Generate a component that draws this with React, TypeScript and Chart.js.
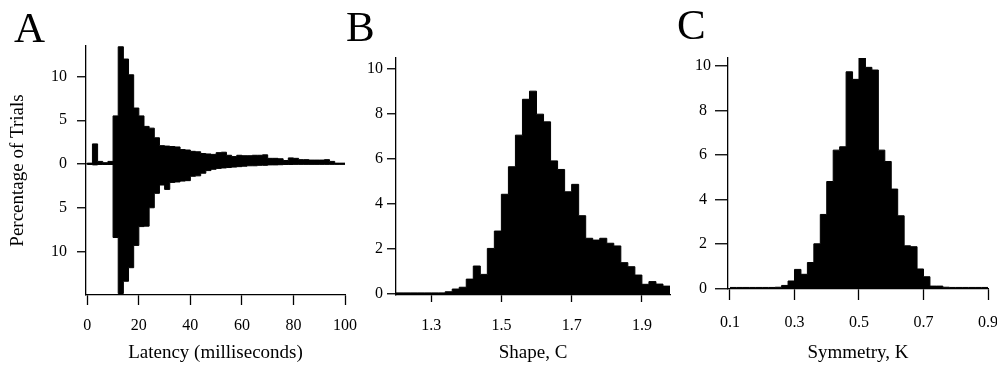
import React, { useEffect, useRef } from 'react';
import { Chart, registerables } from 'chart.js';

Chart.register(...registerables);

const FONT = "'Liberation Serif', 'Times New Roman', serif";

// ---------- Panel A: latency histogram (upper and mirrored lower distributions) ----------
const A_BIN_STARTS = [0, 2, 4, 6, 8, 10, 12, 14, 16, 18, 20, 22, 24, 26, 28, 30, 32, 34, 36, 38, 40, 42, 44, 46, 48, 50, 52, 54, 56, 58, 60, 62, 64, 66, 68, 70, 72, 74, 76, 78, 80, 82, 84, 86, 88, 90, 92, 94, 96, 98];
const A_BIN_END = 100;
const A_ABOVE = [0.1, 2.3, 0.3, 0.15, 0.3, 5.5, 13.4, 12.0, 10.2, 6.4, 5.5, 4.3, 4.1, 3.0, 2.1, 2.05, 2.0, 1.95, 1.65, 1.6, 1.45, 1.4, 1.2, 1.15, 1.1, 1.3, 1.35, 1.0, 0.85, 1.0, 0.95, 0.95, 1.0, 1.0, 1.05, 0.65, 0.65, 0.6, 0.4, 0.7, 0.65, 0.5, 0.5, 0.45, 0.45, 0.45, 0.5, 0.3, 0.1, 0.1];
const A_BELOW = [-0.05, -0.1, -0.05, -0.05, -0.05, -8.4, -14.8, -13.4, -11.85, -9.3, -7.15, -7.1, -5.0, -3.35, -2.4, -2.9, -2.1, -2.05, -1.95, -1.9, -1.4, -1.35, -1.05, -0.75, -0.6, -0.5, -0.45, -0.4, -0.35, -0.3, -0.25, -0.2, -0.2, -0.15, -0.15, -0.1, -0.1, -0.08, -0.05, -0.05, -0.03, -0.03, -0.03, -0.03, -0.03, -0.03, -0.03, -0.03, -0.03, -0.03];
const A_X_TICKS = [0, 20, 40, 60, 80, 100];
const A_Y_TICKS = [-10, -5, 0, 5, 10];

// ---------- Panel B: shape parameter C ----------
const B_BIN_STARTS = [1.2, 1.22, 1.24, 1.26, 1.28, 1.3, 1.32, 1.34, 1.36, 1.38, 1.4, 1.42, 1.44, 1.46, 1.48, 1.5, 1.52, 1.54, 1.56, 1.58, 1.6, 1.62, 1.64, 1.66, 1.68, 1.7, 1.72, 1.74, 1.76, 1.78, 1.8, 1.82, 1.84, 1.86, 1.88, 1.9, 1.92, 1.94, 1.96];
const B_BIN_END = 1.98;
const B_VALUES = [0.05, 0.05, 0.05, 0.05, 0.05, 0.05, 0.05, 0.1, 0.22, 0.3, 0.66, 1.24, 0.87, 2.02, 2.79, 4.42, 5.64, 7.04, 8.63, 8.99, 7.97, 7.63, 5.9, 5.52, 4.53, 4.86, 3.47, 2.47, 2.39, 2.47, 2.25, 2.13, 1.39, 1.21, 0.84, 0.43, 0.55, 0.44, 0.35];
const B_X_TICKS = [1.3, 1.5, 1.7, 1.9];
const B_Y_TICKS = [0, 2, 4, 6, 8, 10];

// ---------- Panel C: symmetry parameter K ----------
const C_BIN_STARTS = [0.1, 0.12, 0.14, 0.16, 0.18, 0.2, 0.22, 0.24, 0.26, 0.28, 0.3, 0.32, 0.34, 0.36, 0.38, 0.4, 0.42, 0.44, 0.46, 0.48, 0.5, 0.52, 0.54, 0.56, 0.58, 0.6, 0.62, 0.64, 0.66, 0.68, 0.7, 0.72, 0.74, 0.76, 0.78, 0.8, 0.82, 0.84, 0.86, 0.88];
const C_BIN_END = 0.9;
const C_VALUES = [0.04, 0.04, 0.04, 0.04, 0.04, 0.04, 0.04, 0.05, 0.13, 0.33, 0.85, 0.63, 1.16, 2.0, 3.32, 4.8, 6.21, 6.36, 9.73, 9.39, 10.36, 9.93, 9.81, 6.21, 5.7, 4.46, 3.26, 1.91, 1.87, 0.87, 0.52, 0.1, 0.1, 0.05, 0.04, 0.04, 0.04, 0.04, 0.04, 0.04];
const C_X_TICKS = [0.1, 0.3, 0.5, 0.7, 0.9];
const C_Y_TICKS = [0, 2, 4, 6, 8, 10];

// ---------- helpers ----------
// Histogram outline: one point per bin's left edge plus the closing right edge,
// drawn as a stepped line filled down to zero.
function histDataset(starts: number[], values: number[], end: number) {
  const pts = starts.map((x, i) => ({ x, y: values[i] }));
  pts.push({ x: end, y: values[values.length - 1] });
  return {
    data: pts,
    stepped: 'before' as const,
    fill: 'origin',
    backgroundColor: '#000',
    borderColor: '#000',
    borderWidth: 1,
    pointRadius: 0,
    pointHoverRadius: 0,
  };
}

type XOpts = {
  min: number; max: number; ticks: number[]; height: number; tickLength: number;
  padding: number; title: string; fmt: (v: number) => string; fontSize?: number;
};
function xScale(o: XOpts) {
  return {
    type: 'linear',
    position: 'bottom',
    min: o.min,
    max: o.max,
    afterBuildTicks: (s: any) => { s.ticks = o.ticks.map((v) => ({ value: v })); },
    afterFit: (s: any) => { s.height = o.height; s.paddingLeft = 0; s.paddingRight = 0; },
    grid: { display: true, drawOnChartArea: false, drawTicks: true, tickLength: o.tickLength, tickColor: '#000', tickWidth: 1.3, color: '#000' },
    border: { display: true, color: '#000', width: 1.3 },
    ticks: {
      color: '#000', autoSkip: false, maxRotation: 0, minRotation: 0, padding: o.padding,
      font: { family: FONT, size: o.fontSize ?? 16 },
      callback: (v: any) => o.fmt(Number(v)),
    },
    title: { display: true, text: o.title, color: '#000', font: { family: FONT, size: 19 }, padding: { top: 0, bottom: 1 } },
  };
}

type YOpts = {
  min: number; max: number; ticks: number[]; width: number; tickLength: number; padding: number;
  fmt: (v: number) => string; crossAlign?: 'near' | 'center' | 'far'; title?: string; zeroLine?: boolean;
};
function yScale(o: YOpts) {
  return {
    type: 'linear',
    position: 'left',
    min: o.min,
    max: o.max,
    afterBuildTicks: (s: any) => { s.ticks = o.ticks.map((v) => ({ value: v })); },
    afterFit: (s: any) => { s.width = o.width; s.paddingTop = 0; s.paddingBottom = 0; },
    grid: {
      display: true,
      drawOnChartArea: !!o.zeroLine,
      drawTicks: true,
      tickLength: o.tickLength,
      tickColor: '#000',
      tickWidth: 1.3,
      lineWidth: 1.5,
      color: (ctx: any) => (o.zeroLine && ctx.tick && ctx.tick.value === 0 ? '#000' : 'rgba(0,0,0,0)'),
    },
    border: { display: true, color: '#000', width: 1.3 },
    ticks: {
      color: '#000', autoSkip: false, padding: o.padding, crossAlign: o.crossAlign ?? 'near',
      font: { family: FONT, size: 16 },
      callback: (v: any) => o.fmt(Number(v)),
    },
    title: o.title
      ? { display: true, text: o.title, color: '#000', font: { family: FONT, size: 19 }, padding: { top: 7, bottom: 0 } }
      : { display: false },
  };
}

function baseOptions(padding: { left: number; top: number; right: number; bottom: number }, x: any, y: any) {
  return {
    responsive: false,
    animation: false,
    events: [],
    layout: { padding },
    plugins: { legend: { display: false }, tooltip: { enabled: false }, title: { display: false } },
    scales: { x, y },
  };
}

function configA() {
  return {
    type: 'line',
    data: {
      datasets: [
        histDataset(A_BIN_STARTS, A_ABOVE, A_BIN_END),
        histDataset(A_BIN_STARTS, A_BELOW, A_BIN_END),
      ],
    },
    options: baseOptions(
      { left: 0, top: 46, right: 20, bottom: 0 },
      xScale({ min: -0.5, max: 100, ticks: A_X_TICKS, height: 70, tickLength: 10, padding: 11, title: 'Latency (milliseconds)', fmt: (v) => String(v) }),
      yScale({ min: -14.97, max: 13.49, ticks: A_Y_TICKS, width: 86, tickLength: 9, padding: 10, fmt: (v) => String(Math.abs(v)), title: 'Percentage of Trials', zeroLine: true }),
    ),
  };
}

function configB() {
  return {
    type: 'line',
    data: { datasets: [histDataset(B_BIN_STARTS, B_VALUES, B_BIN_END)] },
    options: baseOptions(
      { left: 0, top: 58, right: 15, bottom: 0 },
      xScale({ min: 1.2, max: 1.98, ticks: B_X_TICKS, height: 70, tickLength: 7, padding: 14, title: 'Shape, C', fmt: (v) => v.toFixed(1) }),
      yScale({ min: -0.044, max: 10.46, ticks: B_Y_TICKS, width: 31, tickLength: 9, padding: 4, fmt: (v) => String(v) }),
    ),
  };
}

function configC() {
  return {
    type: 'line',
    data: { datasets: [histDataset(C_BIN_STARTS, C_VALUES, C_BIN_END)] },
    options: baseOptions(
      { left: 0, top: 58, right: 27, bottom: 0 },
      xScale({ min: 0.0938, max: 0.9, ticks: C_X_TICKS, height: 76, tickLength: 11, padding: 13, title: 'Symmetry, K', fmt: (v) => v.toFixed(1) }),
      yScale({ min: -0.03, max: 10.35, ticks: C_Y_TICKS, width: 43, tickLength: 13, padding: 4, crossAlign: 'center', fmt: (v) => String(v) }),
    ),
  };
}

function Panel({ left, width, make }: { left: number; width: number; make: () => any }) {
  const ref = useRef<HTMLCanvasElement>(null);
  useEffect(() => {
    if (!ref.current) return;
    const chart = new Chart(ref.current, make());
    return () => chart.destroy();
  }, []);
  return (
    <canvas
      ref={ref}
      width={width}
      height={365}
      style={{ position: 'absolute', left, top: 0, width, height: 365, display: 'block' }}
    />
  );
}

function Letter({ text, left, top }: { text: string; left: number; top: number }) {
  return (
    <div
      style={{
        position: 'absolute', left, top, fontFamily: FONT, fontSize: 43, lineHeight: '1',
        color: '#000', margin: 0, padding: 0, whiteSpace: 'nowrap',
      }}
    >
      {text}
    </div>
  );
}

export default function App() {
  return (
    <div style={{ position: 'absolute', left: 0, top: 0, width: 997, height: 365, overflow: 'hidden', background: '#fff' }}>
      <Panel left={0} width={365} make={configA} />
      <Panel left={365} width={320} make={configB} />
      <Panel left={685} width={330} make={configC} />
      <Letter text="A" left={14} top={6} />
      <Letter text="B" left={346} top={5} />
      <Letter text="C" left={677} top={3} />
    </div>
  );
}
